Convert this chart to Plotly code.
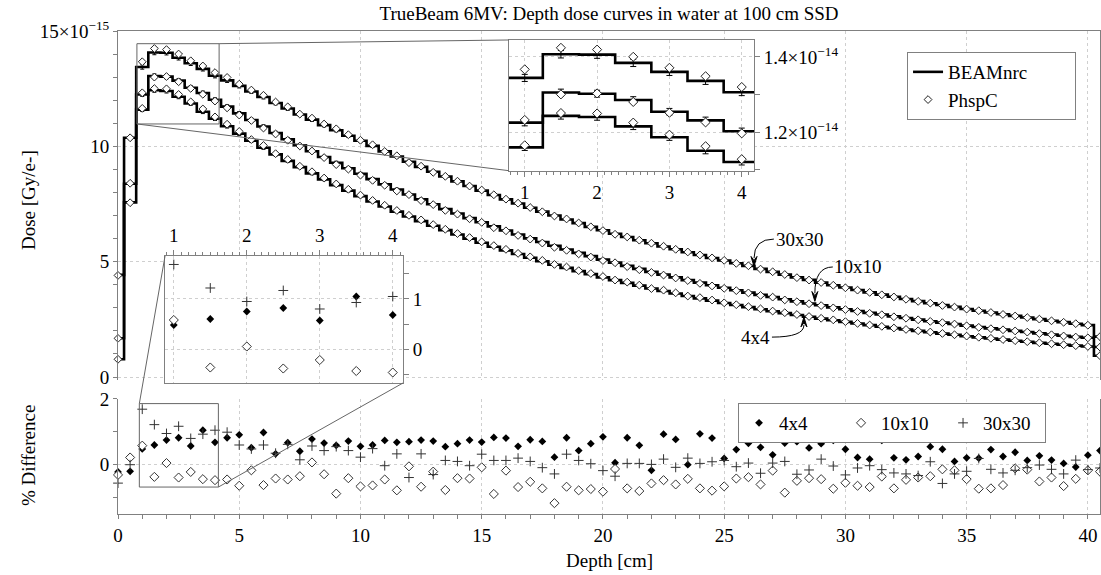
import plotly.graph_objects as go

# ---------------- data (dose in units of 1e-15 Gy/e-) ----------------
depth = [i * 0.5 for i in range(82)]  # cm, 0 .. 40.5

dose_4x4 = [0.77, 7.57, 11.59, 12.43, 12.40, 12.15, 11.86, 11.50, 11.20,
            10.87, 10.55, 10.24, 9.94, 9.65, 9.37, 9.10, 8.83, 8.57, 8.32,
            8.08, 7.84, 7.61, 7.39, 7.17, 6.96, 6.76, 6.56, 6.37, 6.18,
            6.00, 5.82, 5.65, 5.49, 5.33, 5.17, 5.02, 4.87, 4.73, 4.59,
            4.46, 4.32, 4.20, 4.08, 3.96, 3.84, 3.73, 3.62, 3.51, 3.41,
            3.31, 3.21, 3.12, 3.03, 2.94, 2.85, 2.77, 2.69, 2.61, 2.53,
            2.46, 2.39, 2.32, 2.25, 2.18, 2.12, 2.06, 2.00, 1.94, 1.88,
            1.83, 1.77, 1.72, 1.67, 1.62, 1.57, 1.53, 1.48, 1.44, 1.40,
            1.36, 1.32, 0.92]
dose_10x10 = [1.68, 8.38, 12.25, 13.05, 13.02, 12.85, 12.54, 12.31, 12.02,
              11.72, 11.43, 11.14, 10.86, 10.58, 10.31, 10.05, 9.79, 9.54, 9.29,
              9.05, 8.81, 8.58, 8.35, 8.13,
              7.91, 7.70, 7.49, 7.28, 7.09, 6.89, 6.71, 6.53, 6.35, 6.18,
              6.01, 5.85, 5.69, 5.53, 5.38, 5.24, 5.09, 4.96, 4.82, 4.69,
              4.56, 4.44, 4.32, 4.20, 4.09, 3.98, 3.87, 3.76, 3.66, 3.56,
              3.47, 3.37, 3.28, 3.19, 3.11, 3.02, 2.94, 2.86, 2.78, 2.71,
              2.63, 2.56, 2.49, 2.42, 2.36, 2.30, 2.23, 2.17, 2.11, 2.06,
              2.00, 1.95, 1.89, 1.84, 1.79, 1.74, 1.70, 1.30]
dose_30x30 = [4.43, 10.37, 13.44, 14.07, 14.06, 13.84, 13.60, 13.36, 13.06,
              12.86, 12.62, 12.38, 12.14, 11.88, 11.64, 11.38, 11.16, 10.92,
              10.70, 10.46, 10.24, 10.02, 9.78, 9.56,
              9.33, 9.11, 8.90, 8.69, 8.48, 8.28, 8.08, 7.89, 7.70, 7.52,
              7.34, 7.17, 7.00, 6.83, 6.67, 6.51, 6.36,
              6.21, 6.07, 5.93, 5.80, 5.66, 5.54, 5.41, 5.29, 5.16, 5.05, 4.93, 4.82,
              4.69, 4.56, 4.44, 4.32, 4.21, 4.09, 3.98, 3.88, 3.77, 3.67,
              3.57, 3.48, 3.38, 3.29, 3.20, 3.12, 3.04, 2.95, 2.87, 2.80,
              2.72, 2.65, 2.58, 2.51, 2.44, 2.38, 2.31, 2.25, 1.75]

# % difference PhspC vs BEAMnrc
diff_4x4 = [-0.22, -0.20, 0.48, 0.60, 0.75, 0.82, 0.57, 1.05, 0.68, 0.82,
            0.91, 0.52, 0.98, 0.33, 0.67, 0.41, 0.78, 0.66, 0.59, 0.72,
            0.56, 0.60, 0.74, 0.68, 0.70, 0.75, 0.72, 0.55, 0.64, 0.75,
            0.69, 0.83, 0.81, 0.56, 0.76, 0.71, 0.23, 0.82, 0.43, 0.64,
            0.85, 0.06, 0.82, 0.59, -0.17, 0.93, 0.77, 0.00, 0.94, 0.81,
            0.19, 0.46, 0.65, 0.53, 0.30, 0.66, 0.70, 0.51, 0.64, 0.74,
            0.47, 0.22, 0.17, 0.74, 0.21, 0.15, 0.25, 0.55, 0.47, 0.10,
            0.21, 0.20, 0.46, 0.25, 0.38, 0.13, 0.27, 0.14, 0.04, -0.07,
            0.29, 0.43]
diff_10x10 = [-0.31, 0.22, 0.58, -0.37, 0.05, -0.39, -0.22, -0.44, -0.47, -0.45,
              -0.64, -0.17, -0.62, -0.42, -0.45, -0.35, 0.07, -0.29, -0.88, -0.41,
              -0.66, -0.63, -0.45, -0.78, -0.05, -0.67, -0.21, -0.77, -0.41, -0.42,
              -0.08, -0.89, -0.18, -0.68, -0.52, -0.72, -1.17, -0.67, -0.78, -0.74,
              -0.82, -0.13, -0.72, -0.80, -0.57, -0.47, -0.60, -0.43, -0.72, -0.79,
              -0.66, -0.42, -0.38, -0.60, -0.18, -0.85, -0.49, -0.41, -0.44, -0.73,
              -0.55, -0.64, -0.68, -0.36, -0.72, -0.46, -0.39, -0.35, -0.14, -0.17,
              -0.44, -0.73, -0.72, -0.62, -0.11, -0.15, -0.51, -0.39, -0.65, -0.43,
              -0.17, -0.21]
diff_30x30 = [-0.56, 0.00, 1.69, 1.22, 0.95, 1.17, 0.80, 0.93, 1.05, 0.99,
              0.60, 0.48, 0.60, 0.35, 0.62, 0.15, 0.57, 0.43, 0.55, 0.43,
              0.23, 0.49, -0.03, 0.33, -0.39, 0.33, -0.30, 0.13, 0.10, -0.03,
              0.32, 0.13, 0.13, 0.20, 0.10, -0.09, -0.28, 0.32, 0.13, 0.03,
              -0.18, -0.35, 0.04, 0.04, 0.01, 0.17, -0.08, 0.20, 0.04, 0.09,
              0.13, -0.06, 0.05, -0.26, 0.05, 0.10, -0.29, -0.16, 0.17, -0.04,
              -0.31, -0.10, -0.03, -0.15, -0.25, -0.28, -0.33, 0.09, -0.57, -0.28,
              -0.20, 0.19, -0.14, -0.25, -0.17, -0.09, -0.01, -0.14, -0.28, 0.14,
              -0.15, -0.10]

field_sizes = ["4x4", "10x10", "30x30"]
beam_doses = [dose_4x4, dose_10x10, dose_30x30]
diffs = [diff_4x4, diff_10x10, diff_30x30]
# PhspC dose = BEAMnrc dose * (1 + diff/100)
phsp_doses = [[d * (1 + p / 100.0) for d, p in zip(dd, pp)] for dd, pp in zip(beam_doses, diffs)]

# ---------------- geometry / style ----------------
FONT = "Liberation Serif"
AX = "#808080"
GRID = "#cfcfcf"
X_RANGE = [0, 40.5]
TOP_Y = [-0.13, 15]
TOP_DOM = [0.2774, 1.0]
BOT_Y = [-1.5, 2.0]
BOT_DOM = [0.0, 0.2381]
IN1_X, IN1_Y = [0.78, 4.17], [10.97, 14.45]
IN1_DX, IN1_DY = [0.398, 0.6477], [0.7108, 0.9814]
IN2_X, IN2_Y = [0.88, 4.14], [-0.68, 1.86]
IN2_DX, IN2_DY = [0.0479, 0.2902], [0.2712, 0.5342]
PLOT_W_PX, TOP_H_PX = 982.0, 483.0 * (TOP_DOM[1] - TOP_DOM[0])
PX_X = PLOT_W_PX / (X_RANGE[1] - X_RANGE[0])     # px per cm
PX_Y = TOP_H_PX / (TOP_Y[1] - TOP_Y[0])          # px per dose unit
PAD = "\u00a0" * 9  # widens the legend box like the reference


def to_paper(v, rng, dom):
    return dom[0] + (v - rng[0]) / (rng[1] - rng[0]) * (dom[1] - dom[0])


fig = go.Figure()

# ---- top panel: BEAMnrc steps + PhspC markers ----
for i, bd in enumerate(beam_doses):
    fig.add_trace(go.Scatter(
        x=depth, y=bd, mode="lines", xaxis="x2", yaxis="y2",
        line=dict(color="black", width=2.6, shape="hvh"),
        error_y=dict(type="percent", value=0.7, color="black", thickness=1, width=2),
        name="BEAMnrc" + PAD, legend="legend", showlegend=(i == 0), hoverinfo="skip"))
for i, pd in enumerate(phsp_doses):
    fig.add_trace(go.Scatter(
        x=depth, y=pd, mode="markers", xaxis="x2", yaxis="y2", cliponaxis=False,
        marker=dict(symbol="diamond", size=6, color="white", line=dict(color="#222", width=1)),
        name="PhspC", legend="legend", showlegend=(i == 0), hoverinfo="skip"))

# ---- inset 1 (zoom of dose build-up) ----
for bd in beam_doses:
    fig.add_trace(go.Scatter(
        x=depth, y=bd, mode="lines", xaxis="x3", yaxis="y3", showlegend=False,
        line=dict(color="black", width=2.6, shape="hvh"),
        error_y=dict(type="percent", value=0.7, color="black", thickness=1, width=3),
        hoverinfo="skip"))
for pd in phsp_doses:
    fig.add_trace(go.Scatter(
        x=depth, y=pd, mode="markers", xaxis="x3", yaxis="y3", showlegend=False,
        marker=dict(symbol="diamond", size=7, color="white", line=dict(color="#222", width=1)),
        hoverinfo="skip"))

# ---- bottom panel: % difference ----
diff_markers = [
    dict(symbol="diamond", size=6, color="black", line=dict(color="black", width=0)),
    dict(symbol="diamond", size=7, color="white", line=dict(color="#333", width=1)),
    dict(symbol="cross-thin", size=7, color="#333", line=dict(color="#333", width=1)),
]
for name, df, mk in zip(field_sizes, diffs, diff_markers):
    fig.add_trace(go.Scatter(
        x=depth, y=df, mode="markers", xaxis="x", yaxis="y", cliponaxis=False,
        marker=mk, name=name, legend="legend2", hoverinfo="skip"))
for df, mk in zip(diffs, diff_markers):
    fig.add_trace(go.Scatter(
        x=depth, y=df, mode="markers", xaxis="x4", yaxis="y4", showlegend=False,
        marker=mk, hoverinfo="skip"))

tickfont = dict(family=FONT, size=19, color="black")
grid = dict(showgrid=True, gridcolor=GRID, griddash="dot", gridwidth=1, zeroline=False)
line = dict(showline=True, linecolor=AX, linewidth=1)

fig.update_layout(
    width=1101, height=575,
    margin=dict(l=118, r=1, t=31, b=61),
    paper_bgcolor="white", plot_bgcolor="white",
    font=dict(family=FONT, size=19, color="black"),
    title=dict(text="TrueBeam 6MV: Depth dose curves in water at 100 cm SSD",
               x=0.5, xref="paper", xanchor="center", y=0.976, yref="container",
               yanchor="middle", font=dict(family=FONT, size=19, color="black")),
    xaxis=dict(domain=[0, 1], range=X_RANGE, anchor="y", tickmode="linear", tick0=0, dtick=5,
               ticks="outside", ticklen=4, tickcolor=AX, tickfont=tickfont, automargin=False,
               minor=dict(dtick=1, tick0=0, ticks="outside", ticklen=4, tickcolor=AX, showgrid=False),
               **line, **grid),
    xaxis2=dict(domain=[0, 1], range=X_RANGE, anchor="y2", matches="x", side="top",
                tickmode="linear", tick0=0, dtick=5, showticklabels=False, ticks="",
                automargin=False, **line, **grid),
    yaxis=dict(domain=BOT_DOM, range=BOT_Y, anchor="x", tickvals=[0, 2], ticktext=["0", "2"],
               ticks="outside", ticklen=4, tickcolor=AX, tickfont=tickfont, automargin=False,
               mirror=True,
               minor=dict(dtick=1, tick0=0, ticks="outside", ticklen=4, tickcolor=AX, showgrid=False),
               **line, **grid),
    yaxis2=dict(domain=TOP_DOM, range=TOP_Y, anchor="x2", tickvals=[0, 5, 10, 15],
                ticktext=["0", "5", "10", "15×10<sup>−15</sup>"],
                ticks="outside", ticklen=4, tickcolor=AX, tickfont=tickfont, automargin=False,
                mirror=True,
                minor=dict(dtick=1, tick0=0, ticks="outside", ticklen=4, tickcolor=AX, showgrid=False),
                **line, **grid),
    xaxis3=dict(domain=IN1_DX, range=IN1_X, anchor="y3", tickvals=[1, 2, 3, 4],
                ticks="outside", ticklen=5, tickcolor=AX, tickfont=tickfont, automargin=False,
                mirror=True,
                minor=dict(dtick=0.1, tick0=0, ticks="outside", ticklen=3, tickcolor=AX, showgrid=False),
                **line, **grid),
    yaxis3=dict(domain=IN1_DY, range=IN1_Y, anchor="x3", side="right", tickvals=[12, 14],
                ticktext=["1.2×10<sup>−14</sup>", "1.4×10<sup>−14</sup>"],
                ticks="outside", ticklen=5, tickcolor=AX, tickfont=tickfont, automargin=False,
                mirror=True,
                minor=dict(dtick=1, tick0=0, ticks="outside", ticklen=5, tickcolor=AX, showgrid=False),
                **line, **grid),
    xaxis4=dict(domain=IN2_DX, range=IN2_X, anchor="y4", side="top", tickvals=[1, 2, 3, 4],
                ticks="outside", ticklen=5, tickcolor=AX, tickfont=tickfont, automargin=False,
                mirror=True,
                minor=dict(dtick=0.1, tick0=0, ticks="outside", ticklen=3, tickcolor=AX, showgrid=False),
                **line, **grid),
    yaxis4=dict(domain=IN2_DY, range=IN2_Y, anchor="x4", side="right", tickvals=[0, 1],
                ticks="outside", ticklen=5, tickcolor=AX, tickfont=tickfont, automargin=False,
                mirror=True,
                minor=dict(dtick=0.5, tick0=0, ticks="outside", ticklen=5, tickcolor=AX, showgrid=False),
                **line, **grid),
    legend=dict(x=0.8035, y=0.9565, xanchor="left", yanchor="top", bgcolor="white",
                bordercolor=AX, borderwidth=1, font=dict(family=FONT, size=19, color="black"),
                itemwidth=30, tracegroupgap=0),
    legend2=dict(x=0.6314, y=0.2298, xanchor="left", yanchor="top", orientation="h",
                 bgcolor="white", bordercolor=AX, borderwidth=1,
                 font=dict(family=FONT, size=19, color="black"),
                 entrywidth=57, entrywidthmode="pixels", itemwidth=30),
)

# ---- zoom rectangles and connector lines ----
shapes = []
shapes.append(dict(type="rect", xref="x2", yref="y2", x0=IN1_X[0], x1=IN1_X[1],
                   y0=IN1_Y[0], y1=IN1_Y[1], line=dict(color="#666", width=1), layer="above"))
shapes.append(dict(type="rect", xref="x", yref="y", x0=IN2_X[0], x1=IN2_X[1],
                   y0=IN2_Y[0], y1=IN2_Y[1], line=dict(color="#666", width=1), layer="above"))


def conn(p_from, p_to):
    return dict(type="line", xref="paper", yref="paper", x0=p_from[0], y0=p_from[1],
                x1=p_to[0], y1=p_to[1], line=dict(color="#666", width=1), layer="above")


shapes.append(conn((to_paper(IN1_X[1], X_RANGE, [0, 1]), to_paper(IN1_Y[1], TOP_Y, TOP_DOM)),
                   (IN1_DX[0], IN1_DY[1])))
shapes.append(conn((to_paper(IN1_X[0], X_RANGE, [0, 1]), to_paper(IN1_Y[0], TOP_Y, TOP_DOM)),
                   (IN1_DX[0], IN1_DY[0])))
shapes.append(conn((to_paper(IN2_X[0], X_RANGE, [0, 1]), to_paper(IN2_Y[1], BOT_Y, BOT_DOM)),
                   (IN2_DX[0], IN2_DY[1])))
shapes.append(conn((to_paper(IN2_X[1], X_RANGE, [0, 1]), to_paper(IN2_Y[0], BOT_Y, BOT_DOM)),
                   (IN2_DX[1], IN2_DY[0])))

# curved leader lines for curve labels (top-panel data coords)
leaders = [
    # (label, label_x, label_y, start, control, tip, direction: -1 = pointing down, +1 = up)
    ("30x30", 28.12, 5.98, (27.05, 5.98), (26.23, 5.98), (26.23, 4.80), -1),
    ("10x10", 30.52, 4.77, (29.48, 4.77), (28.74, 4.77), (28.74, 3.28), -1),
    ("4x4", 26.31, 1.73, (26.97, 1.73), (28.29, 1.73), (28.29, 2.60), 1),
]
annotations = []
head_len = 8.0 / PX_Y
head_half = 3.0 / PX_X
for lab, lx, ly, s, c, t, dirn in leaders:
    base_y = t[1] - dirn * head_len
    shapes.append(dict(type="path", xref="x2", yref="y2",
                       path=f"M {s[0]},{s[1]} Q {c[0]},{c[1]} {t[0]},{base_y}",
                       line=dict(color="black", width=1), layer="above"))
    shapes.append(dict(type="path", xref="x2", yref="y2",
                       path=(f"M {t[0]},{t[1]} L {t[0] - head_half},{base_y - dirn * 0.08} "
                             f"L {t[0]},{base_y + dirn * 0.1} L {t[0] + head_half},{base_y - dirn * 0.08} Z"),
                       fillcolor="black", line=dict(color="black", width=1), layer="above"))
    annotations.append(dict(xref="x2", yref="y2", x=lx, y=ly, text=lab, showarrow=False,
                            font=dict(family=FONT, size=19, color="black"),
                            xanchor="center", yanchor="middle"))

# axis titles
annotations.append(dict(xref="paper", yref="paper", x=-0.0917, y=0.650, text="Dose [Gy/e-]",
                        textangle=-90, showarrow=False, xanchor="center", yanchor="middle",
                        font=dict(family=FONT, size=19, color="black")))
annotations.append(dict(xref="paper", yref="paper", x=-0.0917, y=0.122, text="% Difference",
                        textangle=-90, showarrow=False, xanchor="center", yanchor="middle",
                        font=dict(family=FONT, size=19, color="black")))
annotations.append(dict(xref="paper", yref="paper", x=0.5, y=-0.0973, text="Depth [cm]",
                        showarrow=False, xanchor="center", yanchor="middle",
                        font=dict(family=FONT, size=19, color="black")))

fig.update_layout(shapes=shapes, annotations=annotations)

fig.write_html("out.html")
